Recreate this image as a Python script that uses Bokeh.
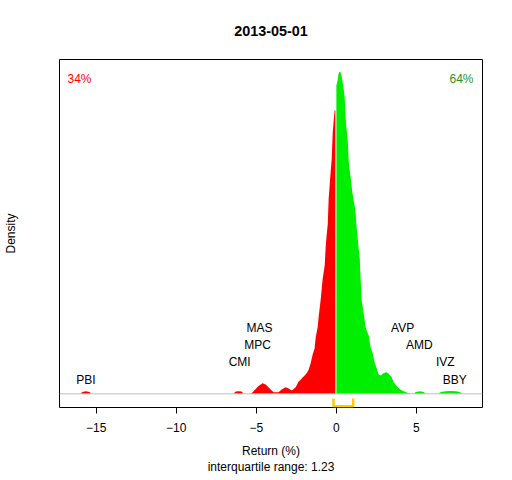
from bokeh.plotting import figure
from bokeh.models import FixedTicker, Span, Label, Range1d, LinearAxis
from bokeh.embed import file_html
from bokeh.resources import INLINE

# ---- data ----
date_title = "2013-05-01"
# density estimate of returns (%), negative side
neg_x = [-15.98, -15.86, -15.64, -15.42, -15.29, -6.42, -6.29, -6.11, -5.92, -5.79,
         -5.36, -5.23, -5.04, -4.86, -4.61, -4.42, -4.23, -4.04, -3.92, -3.61,
         -3.42, -3.17, -2.98, -2.79, -2.67, -2.54, -2.36, -2.23, -2.11, -1.98,
         -1.86, -1.73, -1.61, -1.48, -1.36, -1.29, -1.17, -1.11, -0.98, -0.86,
         -0.73, -0.67, -0.61, -0.54, -0.48, -0.42, -0.36, -0.29, -0.23, -0.17,
         -0.11, -0.06]
neg_d = [0.0, 0.0027, 0.0039, 0.0027, 0.0, 0.0, 0.0034, 0.0039, 0.0034, 0.0,
         0.0, 0.0024, 0.0072, 0.0116, 0.0158, 0.0139, 0.0094, 0.0049, 0.0024, 0.0024,
         0.0064, 0.0099, 0.0079, 0.0049, 0.0072, 0.0099, 0.0184, 0.0209, 0.0243, 0.0273,
         0.0307, 0.0358, 0.0452, 0.0587, 0.0676, 0.0845, 0.0994, 0.1143, 0.1407, 0.1706,
         0.1915, 0.2188, 0.2363, 0.2527, 0.2919, 0.3109, 0.3303, 0.3512, 0.3890, 0.4064,
         0.4228, 0.4228]
# positive side
pos_x = [0.0, 0.08, 0.14, 0.21, 0.27, 0.33, 0.39, 0.46, 0.52, 0.58,
         0.64, 0.71, 0.77, 0.83, 0.89, 0.96, 1.02, 1.08, 1.14, 1.21,
         1.27, 1.33, 1.39, 1.46, 1.52, 1.58, 1.64, 1.71, 1.77, 1.83,
         1.89, 2.02, 2.14, 2.27, 2.39, 2.52, 2.64, 2.77, 2.96, 3.14,
         3.27, 3.46, 3.58, 3.83, 4.02, 4.21, 4.46, 4.64, 4.83, 4.96,
         5.21, 5.46, 5.58, 6.39, 6.52, 6.83, 7.14, 7.46, 7.71, 7.83]
pos_d = [0.4601, 0.4676, 0.4781, 0.4810, 0.4796, 0.4740, 0.4651, 0.4542, 0.4427, 0.4113,
         0.3945, 0.3781, 0.3472, 0.3333, 0.3233, 0.3084, 0.2975, 0.2885, 0.2810, 0.2676,
         0.2467, 0.2337, 0.2169, 0.2019, 0.1691, 0.1393, 0.1303, 0.1199, 0.1094, 0.0994,
         0.0945, 0.0870, 0.0691, 0.0601, 0.0467, 0.0378, 0.0288, 0.0273, 0.0310, 0.0322,
         0.0299, 0.0243, 0.0173, 0.0099, 0.0060, 0.0039, 0.0012, 0.0, 0.0, 0.0027,
         0.0039, 0.0027, 0.0, 0.0, 0.0027, 0.0039, 0.0042, 0.0039, 0.0027, 0.0]

pct_neg = 34
pct_pos = 64
iqr_lo = -0.18
iqr_hi = 1.05
iqr_value = 1.23

left_names = ["PBI", "CMI", "MPC", "MAS"]
left_returns = [-15.64, -6.04, -4.92, -4.80]
right_names = ["BBY", "IVZ", "AMD", "AVP"]
right_returns = [7.39, 6.80, 5.18, 4.14]

x_ticks = [-15, -10, -5, 0, 5]

# ---- figure ----
FONT = "Liberation Sans"
x_lo, x_hi = -17.29, 9.125
y_lo, y_hi = -0.0204, 0.499
W, H = 504, 480
B_LEFT, B_RIGHT, B_TOP, B_BOTTOM = 59, 22, 59, 73
frame_w = W - B_LEFT - B_RIGHT
frame_h = H - B_TOP - B_BOTTOM
ux = (x_hi - x_lo) / frame_w   # data units per pixel
uy = (y_hi - y_lo) / frame_h

p = figure(width=W, height=H, output_backend="svg", toolbar_location=None,
           x_range=Range1d(x_lo, x_hi), y_range=Range1d(y_lo, y_hi),
           min_border_left=B_LEFT, min_border_right=B_RIGHT,
           min_border_top=B_TOP, min_border_bottom=B_BOTTOM,
           x_axis_location=None, y_axis_location=None)
p.background_fill_color = "white"
p.border_fill_color = "white"
p.grid.visible = False
p.outline_line_color = "black"
p.outline_line_width = 1


def bare_axis(label, standoff, size="12px", style="normal"):
    ax = LinearAxis(ticker=FixedTicker(ticks=[]))
    ax.axis_line_color = None
    ax.major_tick_line_color = None
    ax.minor_tick_line_color = None
    ax.major_label_text_font_size = "0px"
    ax.axis_label = label
    ax.axis_label_text_font = FONT
    ax.axis_label_text_font_size = size
    ax.axis_label_text_font_style = style
    ax.axis_label_text_color = "black"
    ax.axis_label_standoff = standoff
    return ax


xa = LinearAxis(ticker=FixedTicker(ticks=x_ticks))
xa.axis_line_color = None
xa.major_tick_out = 6
xa.major_tick_in = 0
xa.minor_tick_line_color = None
xa.major_tick_line_color = "black"
xa.major_label_text_font = FONT
xa.major_label_text_font_size = "12px"
xa.major_label_text_color = "black"
xa.major_label_standoff = 9
xa.axis_label = "Return (%)\ninterquartile range: " + ("%.2f" % iqr_value)
xa.axis_label_text_font = FONT
xa.axis_label_text_font_size = "12px"
xa.axis_label_text_font_style = "normal"
xa.axis_label_text_color = "black"
xa.axis_label_text_line_height = 1.2
xa.axis_label_standoff = 9
p.add_layout(xa, "below")

p.add_layout(bare_axis("Density", 42), "left")
p.add_layout(bare_axis(date_title, 24, size="14.4px", style="bold"), "above")

# density areas
p.varea(x=neg_x, y1=[0.0] * len(neg_x), y2=neg_d, fill_color="#FF0000")
p.varea(x=pos_x, y1=[0.0] * len(pos_x), y2=pos_d, fill_color="#00EE00")

# baseline
p.add_layout(Span(location=0, dimension="width", line_color="#BEBEBE", line_width=1))

# IQR bracket
br_top = y_lo + 9 * uy
br_bot = y_lo + 1.2 * uy
p.line(x=[iqr_lo, iqr_lo, iqr_hi, iqr_hi], y=[br_top, br_bot, br_bot, br_top],
       line_color="#FFCC00", line_width=2.5)

# percentages
p.add_layout(Label(x=x_lo + 8 * ux, y=y_hi - 19 * uy, text="%d%%" % pct_neg,
                   text_color="#FF0000", text_font=FONT, text_font_size="12px",
                   text_align="left", text_baseline="middle"))
p.add_layout(Label(x=x_hi - 9 * ux, y=y_hi - 19 * uy, text="%d%%" % pct_pos,
                   text_color="#1E961E", text_font=FONT, text_font_size="12px",
                   text_align="right", text_baseline="middle"))

# extreme stock labels, stacked in rows
row0 = 0.0213
row_step = 0.0259
for names, rets in ((left_names, left_returns), (right_names, right_returns)):
    for i, (nm, r) in enumerate(zip(names, rets)):
        p.add_layout(Label(x=r, y=row0 + i * row_step, text=nm, text_color="black",
                           text_font=FONT, text_font_size="12px", text_align="center",
                           text_baseline="middle"))

open("out.html", "w").write(file_html(p, INLINE))
